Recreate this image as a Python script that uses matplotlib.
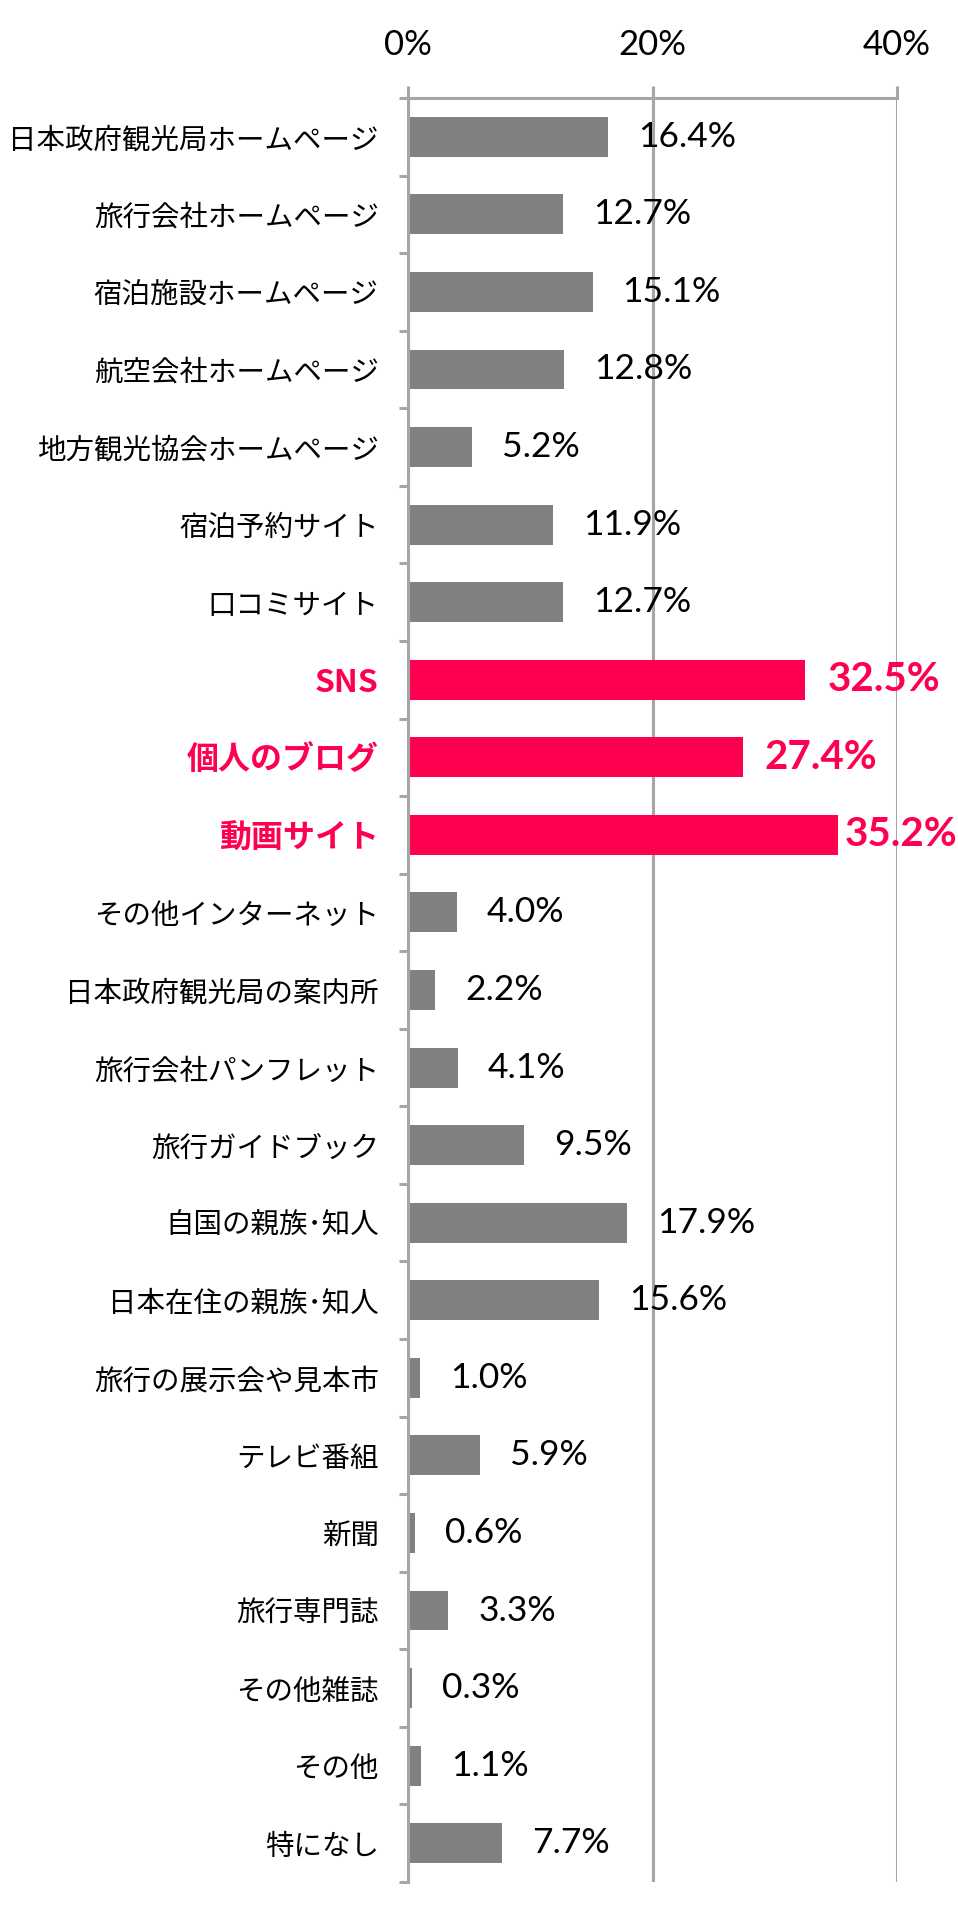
import matplotlib
matplotlib.use("Agg")
import matplotlib.pyplot as plt
import numpy as np

plt.rcParams['font.family'] = ['Noto Sans CJK JP', 'DejaVu Sans']

categories = [
    "日本政府観光局ホームページ", "旅行会社ホームページ", "宿泊施設ホームページ",
    "航空会社ホームページ", "地方観光協会ホームページ", "宿泊予約サイト",
    "口コミサイト", "SNS", "個人のブログ", "動画サイト", "その他インターネット",
    "日本政府観光局の案内所", "旅行会社パンフレット", "旅行ガイドブック",
    "自国の親族･知人", "日本在住の親族･知人", "旅行の展示会や見本市",
    "テレビ番組", "新聞", "旅行専門誌", "その他雑誌", "その他", "特になし",
]
values = [16.4, 12.7, 15.1, 12.8, 5.2, 11.9, 12.7, 32.5, 27.4, 35.2, 4.0,
          2.2, 4.1, 9.5, 17.9, 15.6, 1.0, 5.9, 0.6, 3.3, 0.3, 1.1, 7.7]
highlight = ["SNS", "個人のブログ", "動画サイト"]
xticks = [0, 20, 40]

GRAY = "#808080"
RED = "#FF0050"
AXIS = "#A6A6A6"
W, H = 958, 1910

fig = plt.figure(figsize=(W / 100, H / 100), dpi=100)
ax = fig.add_axes([408 / W, 1 - 1882 / H, (897 - 408) / W, (1882 - 98) / H])

n = len(categories)
ypos = np.arange(n)
colors = [RED if c in highlight else GRAY for c in categories]
ax.barh(ypos, values, height=0.515, color=colors, zorder=2)

ax.set_xlim(0, 40)
ax.set_ylim(n - 0.5, -0.5)

# x axis on top
ax.xaxis.tick_top()
ax.set_xticks(xticks)
ax.set_xticklabels([f"{t}%" for t in xticks], fontfamily="Lato", fontsize=25)
ax.tick_params(axis='x', length=8.6, width=2.2, color=AXIS, pad=18)

# y axis
ax.set_yticks(ypos)
ax.set_yticklabels(categories)
ax.set_yticks(np.arange(n + 1) - 0.5, minor=True)
ax.tick_params(axis='y', which='major', length=0, pad=21, labelsize=20.5)
ax.tick_params(axis='y', which='minor', length=6.5, width=2.2, color=AXIS, direction='out')
for lab in ax.get_yticklabels():
    if lab.get_text() in highlight:
        lab.set_color(RED)
        lab.set_fontweight('bold')
        lab.set_fontsize(23)

for s in ['right', 'bottom']:
    ax.spines[s].set_visible(False)
for s in ['top', 'left']:
    ax.spines[s].set_color(AXIS)
    ax.spines[s].set_linewidth(2.2)

ax.grid(axis='x', color=AXIS, linewidth=2.2)
ax.set_axisbelow(True)

texts = []
for i, (c, v) in enumerate(zip(categories, values)):
    hl = c in highlight
    t = ax.annotate(f"{v:.1f}%", xy=(v, i), xytext=(22 if hl else 30, 0),
                    textcoords='offset pixels', ha='left', va='center',
                    fontfamily='Lato', fontsize=29 if hl else 25.5,
                    fontweight='bold' if hl else 'normal',
                    color=RED if hl else 'black', annotation_clip=False)
    texts.append(t)

# keep labels inside the figure
fig.canvas.draw()
renderer = fig.canvas.get_renderer()
for t in texts:
    bb = t.get_window_extent(renderer)
    if bb.x1 > W - 1:
        dx, dy = t.xyann
        t.xyann = (dx - (bb.x1 - (W - 1)), dy)

fig.savefig("out.png", dpi=100, facecolor="white")
